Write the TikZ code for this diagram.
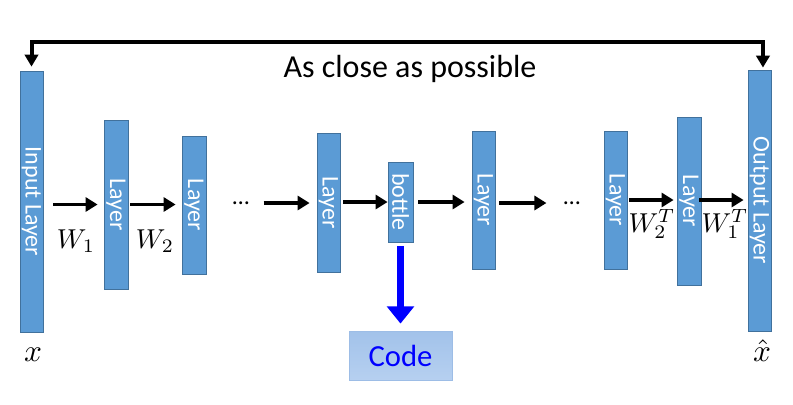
\documentclass[tikz,border=0pt]{standalone}
\usepackage{fontspec}
\setmainfont{Carlito}
\usetikzlibrary{arrows.meta,calc}
\definecolor{laycol}{HTML}{5B9BD5}
\definecolor{laybd}{HTML}{41719C}
\definecolor{codetop}{HTML}{A2C2EA}
\definecolor{codebot}{HTML}{B6D0F0}
\definecolor{codebd}{HTML}{9DBDE6}
\newcommand{\mbig}[1]{\scalebox{2.05}{$#1$}}
\newcommand{\xbig}[1]{\scalebox{2.35}{$#1$}}
\begin{document}
\begin{tikzpicture}[x=0.75pt,y=-0.75pt,
  lay/.style={draw=laybd, line width=0.6pt, fill=laycol, inner sep=0pt, text=white,
    font=\fontsize{18}{18}\selectfont},
  arr/.style={line width=2.7pt, -{Triangle[length=9pt,width=10.5pt]}},
  fb/.style={line width=3pt, {Triangle[length=9pt,width=10pt]}-{Triangle[length=9pt,width=10pt]}},
  blarr/.style={draw=blue, line width=5.25pt, -{Triangle[length=13pt,width=20pt]}},
  mlab/.style={anchor=base, inner sep=0pt},
  dotsn/.style={inner sep=0pt, font=\fontsize{18}{18}\selectfont}]
\path[use as bounding box] (0,0) rectangle (793,404);
% layers
\node[lay, minimum width=23*0.75pt, minimum height=261*0.75pt] (inp) at (31.5,201.5) {\rotatebox{-90}{Input Layer}};
\node[lay, minimum width=24*0.75pt, minimum height=169*0.75pt] (L1) at (116,204.5) {\rotatebox{-90}{Layer}};
\node[lay, minimum width=24*0.75pt, minimum height=138*0.75pt] (L2) at (194,205) {\rotatebox{-90}{Layer}};
\node[lay, minimum width=23*0.75pt, minimum height=139*0.75pt] (L3) at (328.5,202.5) {\rotatebox{-90}{Layer}};
\node[lay, minimum width=25*0.75pt, minimum height=80*0.75pt] (bot) at (400.5,202) {\rotatebox{-90}{bottle}};
\node[lay, minimum width=23*0.75pt, minimum height=138*0.75pt] (L4) at (483.5,200) {\rotatebox{-90}{Layer}};
\node[lay, minimum width=23*0.75pt, minimum height=138*0.75pt] (L5) at (615.5,200) {\rotatebox{-90}{Layer}};
\node[lay, minimum width=24*0.75pt, minimum height=168*0.75pt] (L6) at (689,201) {\rotatebox{-90}{Layer}};
\node[lay, minimum width=23*0.75pt, minimum height=261*0.75pt] (out) at (759.5,200.5) {\rotatebox{-90}{Output Layer}};
% code box
\node[draw=codebd, line width=0.6pt, top color=codetop, bottom color=codebot, text=blue,
  minimum width=103*0.75pt, minimum height=49*0.75pt, inner sep=0pt,
  font=\fontsize{23}{23}\selectfont] (code) at (400.5,355.5) {Code};
% dots
\node[dotsn] (d1) at (241,203) {…};
\node[dotsn] (d2) at (572,203) {…};
% arrows
\draw[arr, shorten <=7.5pt, shorten >=4.5pt] (inp.east |- L1.west) -- (L1.west);
\draw[arr, shorten <=1.5pt, shorten >=4.5pt] (L1.east) -- (L1.east -| L2.west);
\draw[arr, shorten <=10.5pt, shorten >=5.25pt] (d1.east) -- (d1.east -| L3.west);
\draw[arr, shorten <=2.25pt, shorten >=0pt] (L3.east |- bot.west) -- (bot.west);
\draw[arr, shorten <=3.75pt, shorten >=5.25pt] (bot.east) -- (bot.east -| L4.west);
\draw[arr, shorten <=3pt, shorten >=12.75pt] (L4.east |- d2.west) -- (d2.west);
\draw[arr, shorten <=1.5pt, shorten >=2.25pt] (L5.east) -- (L5.east -| L6.west);
\draw[arr, shorten <=-1.5pt, shorten >=3pt] (L6.east |- L5.east) -- (L6.east |- L5.east -| out.west);
\draw[blarr, shorten <=3pt, shorten >=5.25pt] (bot.south) -- (code.north);
% feedback
\coordinate (fr) at ([xshift=2.6pt]out.north);
\draw[fb, shorten <=1.5pt, shorten >=3pt] (fr) -- ++(0,-28) -| (inp.north);
% labels
\node[anchor=base, inner sep=0pt, font=\fontsize{24}{24}\selectfont] (title) at (410,77) {As close as possible};
\node[mlab] (w1) at (76,248) {\mbig{W_1}};
\node[mlab] (w2) at (155,248) {\mbig{W_2}};
\node[mlab] (w2t) at (652,232) {\mbig{W_2^T}};
\node[mlab] (w1t) at (725,232) {\mbig{W_1^T}};
\node[mlab] (xin) at (33,361) {\xbig{x}};
\node[mlab] (xout) at (762,361) {\xbig{\hat{x}}};
\end{tikzpicture}
\end{document}
